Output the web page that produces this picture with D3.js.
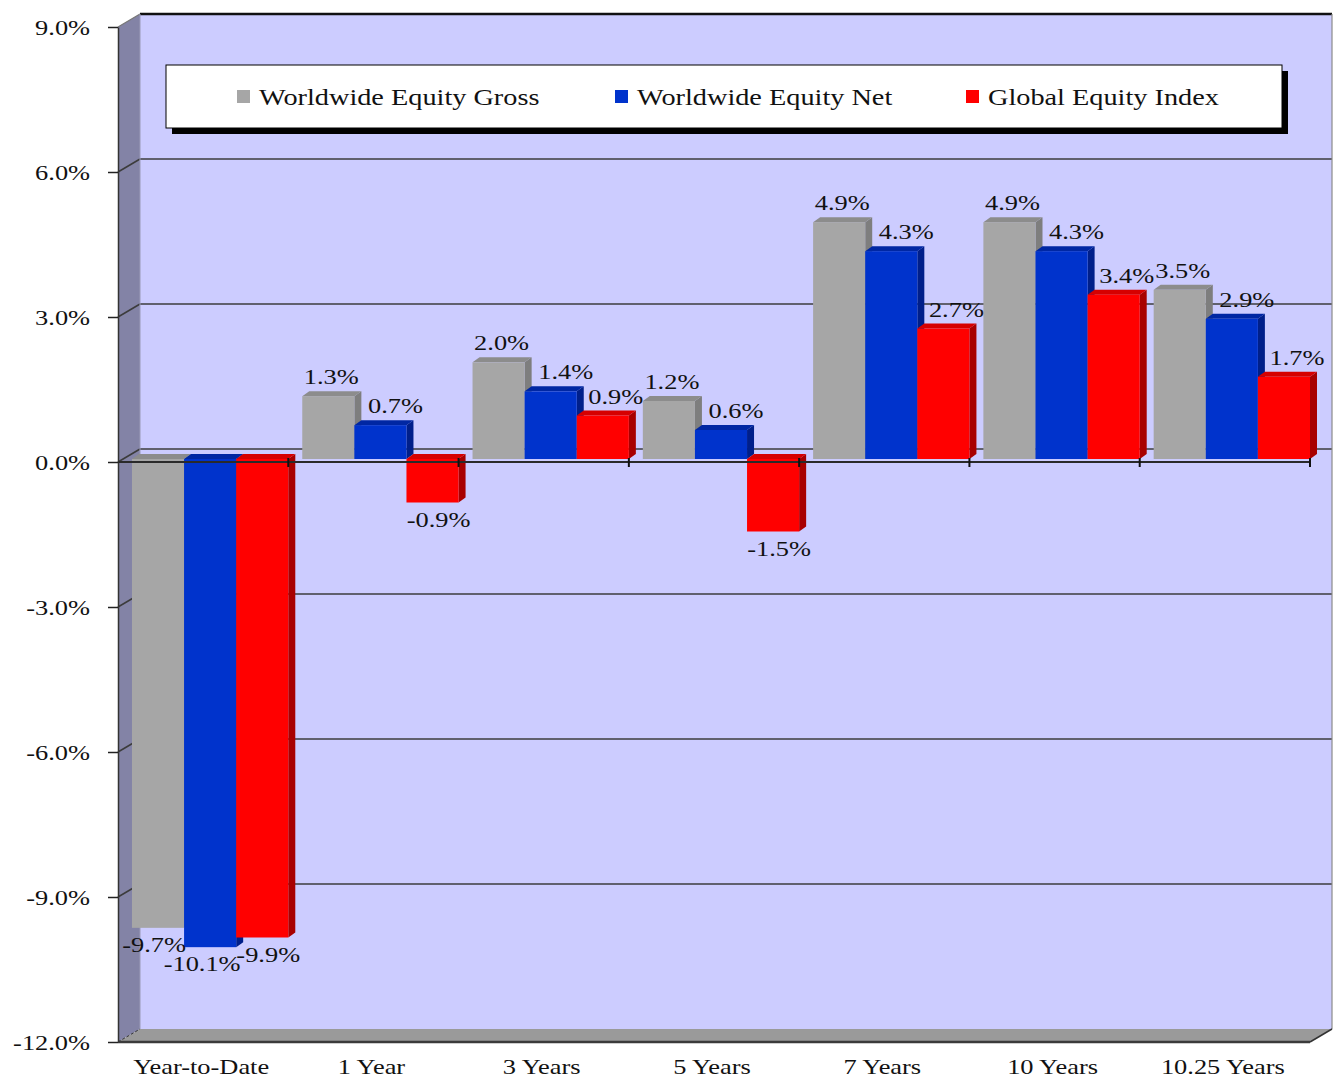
<!DOCTYPE html>
<html>
<head>
<meta charset="utf-8">
<script src="https://cdn.jsdelivr.net/npm/d3@7"></script>
<style>
  html, body { margin: 0; padding: 0; background: #ffffff; }
  svg { display: block; }
</style>
</head>
<body>
<svg id="chart" width="1333" height="1080"></svg>
<script>
// Annualised returns by period
const categories = ["Year-to-Date", "1 Year", "3 Years", "5 Years", "7 Years", "10 Years", "10.25 Years"];
const seriesNames = ["Worldwide Equity Gross", "Worldwide Equity Net", "Global Equity Index"];
const grossValues = [-9.7, 1.3, 2.0, 1.2, 4.9, 4.9, 3.5];
const netValues = [-10.1, 0.7, 1.4, 0.6, 4.3, 4.3, 2.9];
const indexValues = [-9.9, -0.9, 0.9, -1.5, 2.7, 3.4, 1.7];
const yTickValues = [9, 6, 3, 0, -3, -6, -9, -12];

const seriesValues = [grossValues, netValues, indexValues];

// Faces of each column: front, top, right side
const seriesStyles = [
  { front: "#a6a6a6", top: "#8c8c8c", side: "#7e7e7e", lblPos: 3, lblNeg: -4 },
  { front: "#0033cc", top: "#0027a3", side: "#001f8a", lblPos: 15, lblNeg: -8 },
  { front: "#ff0000", top: "#d60000", side: "#a80000", lblPos: 13, lblNeg: 6 }
];

const FONT = '"Liberation Serif", "Times New Roman", serif';
const STRETCH = 1.2;

// Plot box (front plane) and wall depth
const frontLeft = 118, frontRight = 1310, yTop = 27, yBottom = 1042;
const DX = 22, DY = -13;
const BDX = 7, BDY = -5;     // column depth
const LIFT = -3;             // columns sit slightly behind the front plane

const svg = d3.select("#chart");

const y = d3.scaleLinear().domain([-12, 9]).range([yBottom, yTop]);
const x0 = d3.scaleBand().domain(categories).range([frontLeft, frontRight]).padding(0);
const bw = x0.bandwidth();
const x1 = d3.scaleBand().domain(seriesNames).range([bw * 0.082, bw]).padding(0);

// ---- walls ----
const backLeft = frontLeft + DX, backRight = frontRight + DX;
const backTop = yTop + DY, backBottom = yBottom + DY;

svg.append("rect")
  .attr("x", backLeft).attr("y", backTop)
  .attr("width", backRight - backLeft).attr("height", backBottom - backTop)
  .attr("fill", "#ccccff");

svg.append("polygon")
  .attr("points", [[frontLeft, yTop], [backLeft, backTop], [backLeft, backBottom], [frontLeft, yBottom]].join(" "))
  .attr("fill", "#8383a6");

svg.append("polygon")
  .attr("points", [[frontLeft, yBottom], [backLeft, backBottom], [backRight, backBottom], [frontRight, yBottom]].join(" "))
  .attr("fill", "#9a9a9a");

// gridlines on the back and side walls
const grid = svg.append("g").attr("stroke", "#3c3c3c").attr("stroke-width", 1.5).attr("fill", "none");
yTickValues.filter(v => v !== 9 && v !== -12).forEach(v => {
  grid.append("line").attr("x1", backLeft).attr("x2", backRight)
    .attr("y1", y(v) + DY).attr("y2", y(v) + DY);
  grid.append("line").attr("x1", frontLeft).attr("x2", backLeft)
    .attr("y1", y(v)).attr("y2", y(v) + DY);
});

// wall outlines
svg.append("line").attr("x1", backLeft).attr("x2", backRight)
  .attr("y1", backTop).attr("y2", backTop).attr("stroke", "#111").attr("stroke-width", 2.5);
svg.append("line").attr("x1", frontLeft).attr("y1", yTop).attr("x2", backLeft).attr("y2", backTop)
  .attr("stroke", "#777").attr("stroke-width", 1.2);
svg.append("line").attr("x1", backRight).attr("x2", backRight)
  .attr("y1", backTop).attr("y2", backBottom).attr("stroke", "#8a8a8a").attr("stroke-width", 1.2);
svg.append("line").attr("x1", backLeft).attr("x2", backLeft)
  .attr("y1", backTop).attr("y2", backBottom).attr("stroke", "#9a9ab8").attr("stroke-width", 1);
svg.append("line").attr("x1", frontRight).attr("y1", yBottom).attr("x2", backRight).attr("y2", backBottom)
  .attr("stroke", "#333").attr("stroke-width", 1.5);
svg.append("line").attr("x1", frontLeft).attr("y1", yBottom).attr("x2", backLeft).attr("y2", backBottom)
  .attr("stroke", "#333").attr("stroke-width", 1).attr("stroke-dasharray", "3,2");
svg.append("line").attr("x1", frontLeft).attr("x2", frontRight)
  .attr("y1", yBottom).attr("y2", yBottom).attr("stroke", "#3a3a3a").attr("stroke-width", 2.5);

// ---- value axis ----
const yAxis = d3.axisLeft(y).tickValues(yTickValues)
  .tickFormat(d => d.toFixed(1) + "%")
  .tickSizeInner(10).tickSizeOuter(0).tickPadding(13.3);
const yAxisG = svg.append("g").attr("transform", `translate(${frontLeft},0)`).call(yAxis);
yAxisG.select(".domain").attr("stroke", "#333").attr("stroke-width", 1.5);
yAxisG.selectAll(".tick line").attr("stroke", "#222").attr("stroke-width", 1.5);
yAxisG.selectAll(".tick text")
  .attr("font-family", FONT).attr("font-size", 22).attr("fill", "#111")
  .attr("dy", "0.33em")
  .attr("transform", `scale(${STRETCH},1)`);

// ---- columns ----
const bars = svg.append("g");
const labels = [];
categories.forEach((cat, ci) => {
  seriesNames.forEach((s, si) => {
    const v = seriesValues[si][ci];
    const st = seriesStyles[si];
    const xl = x0(cat) + x1(s);
    const xr = xl + x1.bandwidth();
    const yv = y(v) + LIFT, y0 = y(0) + LIFT;
    const top = Math.min(yv, y0), bottom = Math.max(yv, y0);
    const g = bars.append("g");
    // right side face
    g.append("polygon")
      .attr("points", [[xr, top], [xr + BDX, top + BDY], [xr + BDX, bottom + BDY], [xr, bottom]].join(" "))
      .attr("fill", st.side);
    // top face
    g.append("polygon")
      .attr("points", [[xl, top], [xl + BDX, top + BDY], [xr + BDX, top + BDY], [xr, top]].join(" "))
      .attr("fill", st.top);
    // front face
    g.append("rect").attr("x", xl).attr("y", top)
      .attr("width", xr - xl).attr("height", bottom - top)
      .attr("fill", st.front);
    const cx = (xl + xr) / 2;
    labels.push({
      text: v.toFixed(1) + "%",
      x: cx + (v >= 0 ? st.lblPos : st.lblNeg),
      y: v >= 0 ? top - 12 : bottom + 24
    });
  });
});

// ---- category axis at zero (front plane) ----
const zeroY = y(0);
svg.append("line").attr("x1", frontLeft).attr("x2", frontRight)
  .attr("y1", zeroY).attr("y2", zeroY)
  .attr("stroke", "#2a2a2a").attr("stroke-width", 2);
const boundaries = categories.map(c => x0(c)).concat([x0(categories[categories.length - 1]) + bw]).slice(1);
svg.append("g").selectAll("line").data(boundaries).join("line")
  .attr("x1", d => d).attr("x2", d => d)
  .attr("y1", zeroY - 4).attr("y2", zeroY + 5)
  .attr("stroke", "#111").attr("stroke-width", 2);

// ---- data labels ----
svg.append("g").selectAll("text").data(labels).join("text")
  .attr("transform", d => `translate(${d.x},${d.y}) scale(${STRETCH},1)`)
  .attr("text-anchor", "middle")
  .attr("font-family", FONT).attr("font-size", 22).attr("fill", "#111")
  .text(d => d.text);

// ---- category labels ----
const xAxis = d3.axisBottom(x0).tickSize(0).tickPadding(16.5);
const xAxisG = svg.append("g").attr("transform", `translate(0,${yBottom})`).call(xAxis);
xAxisG.select(".domain").remove();
xAxisG.selectAll(".tick text")
  .attr("font-family", FONT).attr("font-size", 22).attr("fill", "#111")
  .attr("transform", `translate(-2,0) scale(${STRETCH},1)`);

// ---- legend ----
const lg = { x: 166, y: 65, w: 1116, h: 63 };
svg.append("rect").attr("x", lg.x + 6).attr("y", lg.y + 6)
  .attr("width", lg.w).attr("height", lg.h).attr("fill", "#000");
svg.append("rect").attr("x", lg.x).attr("y", lg.y)
  .attr("width", lg.w).attr("height", lg.h)
  .attr("fill", "#fff").attr("stroke", "#000").attr("stroke-width", 1);
const legendOffsets = [71, 449, 800];
const legendItems = svg.append("g").selectAll("g").data(seriesNames).join("g")
  .attr("transform", (d, i) => `translate(${lg.x + legendOffsets[i]},${lg.y})`);
legendItems.append("rect").attr("x", 0).attr("y", 25).attr("width", 13).attr("height", 13)
  .attr("fill", (d, i) => seriesStyles[i].front);
legendItems.append("text")
  .attr("transform", `translate(22,40) scale(1.23,1)`)
  .attr("font-family", FONT).attr("font-size", 23).attr("fill", "#111")
  .text(d => d);
</script>
</body>
</html>
